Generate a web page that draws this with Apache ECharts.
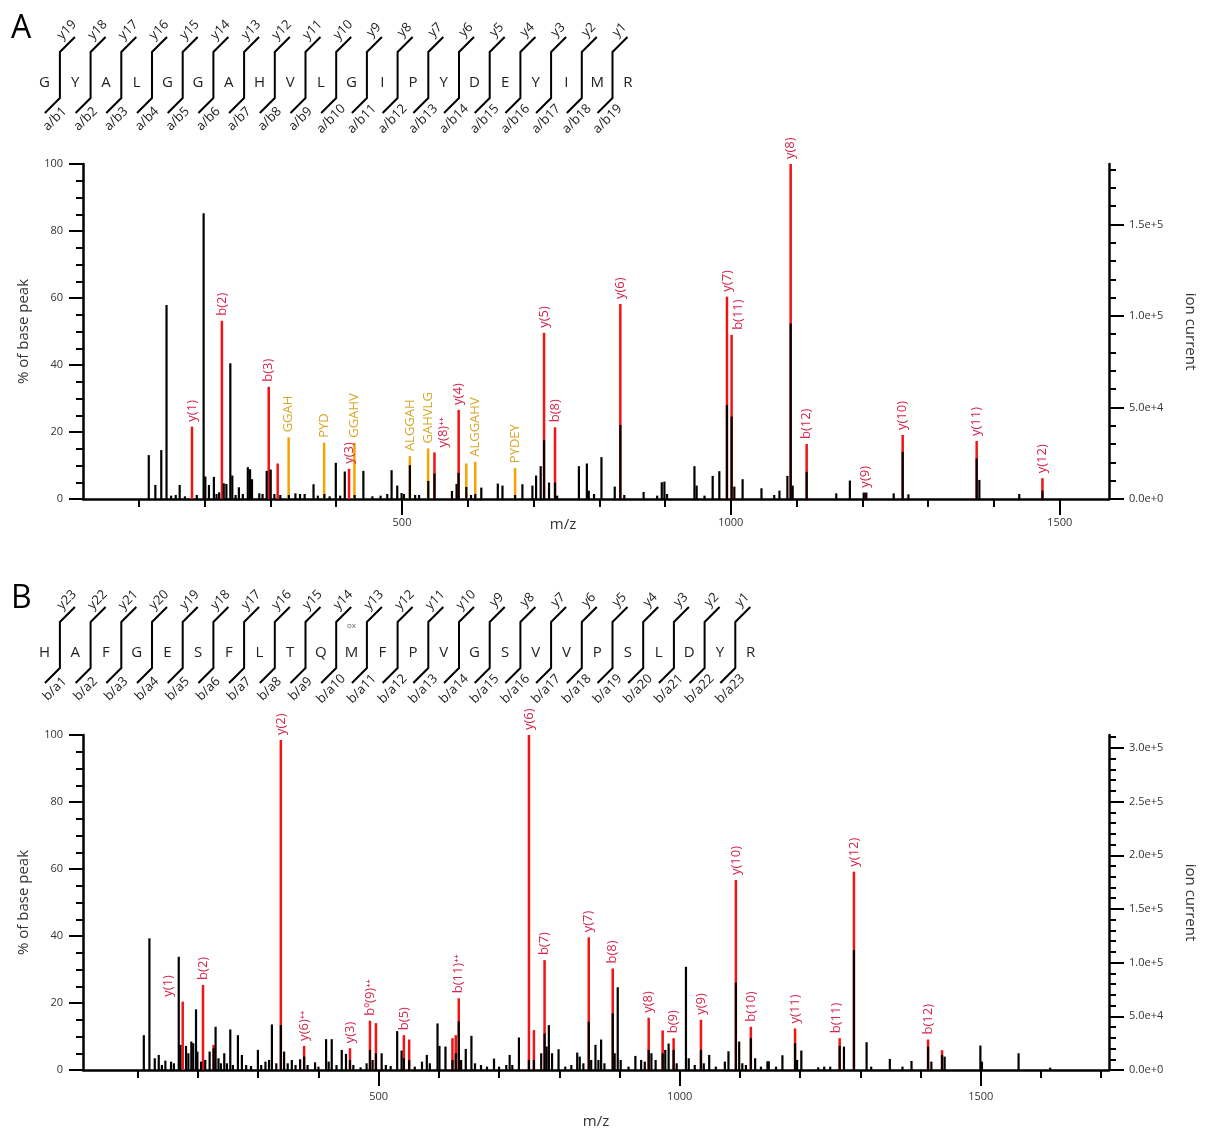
<!DOCTYPE html>
<html>
<head>
<meta charset="utf-8">
<script src="https://cdn.jsdelivr.net/npm/echarts@6/dist/echarts.min.js"></script>
<style>
html, body { margin: 0; padding: 0; background: #fff; }
#main { width: 1206px; height: 1133px; }
</style>
</head>
<body>
<div id="main"></div>
<script>
// peptide sequences
var seqA = ['G','Y','A','L','G','G','A','H','V','L','G','I','P','Y','D','E','Y','I','M','R'];
var seqB = ['H','A','F','G','E','S','F','L','T','Q','M','F','P','V','G','S','V','V','P','S','L','D','Y','R'];
var modsB = {10: 'ox'};

// axis ticks
var mzMinorA = [100,200,300,400,500,600,700,800,900,1000,1100,1200,1300,1400,1500];
var mzMinorB = [100,200,300,400,500,600,700,800,900,1000,1100,1200,1300,1400,1500,1600,1700];
var mzMajor = [500,1000,1500];
var ionMajorA = [0,50000,100000,150000];
var ionMinorA = [10000,20000,30000,40000,60000,70000,80000,90000,110000,120000,130000,140000,160000,170000,180000];
var ionMajorB = [0,50000,100000,150000,200000,250000,300000];
var ionMinorB = [10000,20000,30000,40000,60000,70000,80000,90000,110000,120000,130000,140000,160000,170000,180000,190000,
  210000,220000,230000,240000,260000,270000,280000,290000,310000];

// panel A peaks [m/z, % of base peak]
var blackA = [[115,13.1],[125,4.2],[134,14.6],[142,57.9],[149,1.0],[156,1.2],[162,4.2],[170,0.8],[188,1.2],[198.4,85.3],
  [201,6.7],[206.5,4.2],[214,6.6],[218,1.5],[222,2],[229,4.7],[233,4.5],[239,40.5],[242,7],[247,1.2],[252,3.5],[258,1.5],
  [265.6,9.5],[269,8.9],[272,5.9],[283,1.7],[288,1.5],[294.3,8.4],[300.4,8.8],[306,1.5],[315,1.2],[328,1.2],[338,1.7],
  [345,1.5],[352,1.5],[365.5,4.4],[372,1],[382,1.5],[390,0.8],[399.4,10.8],[406,1.0],[413,8.2],[428,1.2],[441.3,8.4],
  [455,0.8],[467.5,1],[477.6,1.5],[484.2,8.6],[492.8,4.0],[499.4,1.8],[503,1.5],[512,10.1],[520,1.2],[526,1.2],[540,5.4],
  [549.4,7.6],[576,2.4],[583,4.5],[586,7.8],[597.8,3.6],[605,1.2],[611.4,1.5],[620.6,3.4],[645.7,4.6],[652.8,4],[672,1.2],
  [683.1,4.4],[698.3,4],[703.9,7],[710.9,9.8],[716,17.6],[723.6,4.9],[732.7,4.9],[736,1],[769,9.8],[781.1,10.6],[784,2.5],
  [792,1.5],[803.3,12.5],[823.5,3.7],[832,22.1],[838,1.2],[867.4,2.1],[888,1.0],[895,5],[899,5.2],[903,1.5],[944.7,9.8],
  [948,4.0],[960,1.0],[972.4,6.9],[982.5,8.3],[994.1,28],[1001.2,24.6],[1005.3,3.7],[1017.9,5.9],[1046.6,3.2],[1066,1.2],
  [1073.9,2.5],[1086,6.9],[1091,52.4],[1094,4],[1115.3,8.1],[1160.3,1.7],[1181,5.5],[1202,1.9],[1206,1.9],[1247.6,1.7],
  [1261.3,14.1],[1270,1.4],[1373.8,12.1],[1377.9,5.7],[1438.5,1.5],[1473.8,2.5]];
var redA = [[180.7,21.6,'y(1)'],[226.2,53.2,'b(2)'],[297.4,33.5,'b(3)'],[311,10.6,''],[419.5,9.0,'y(3)'],
  [549.4,13.9,'y(8)⁺⁺'],[586.2,26.6,'y(4)'],[716,49.6,'y(5)'],[732.7,21.4,'b(8)'],[832,58.2,'y(6)'],[994.1,60.4,'y(7)'],
  [1001.2,49,'b(11)'],[1091,100,'y(8)'],[1115.3,16.4,'b(12)'],[1204,1.9,'y(9)'],[1261.3,19.1,'y(10)'],
  [1373.8,17.3,'y(11)'],[1473.8,6.2,'y(12)']];
var orangeA = [[327.7,18.4,'GGAH'],[381.7,16.8,'PYD'],[427.7,16.8,'GGAHV'],[512,12.8,'ALGGAH'],[539.7,15.1,'GAHVLG'],
  [597.8,10.6,''],[611.4,11.1,'ALGGAHV'],[672,9.2,'PYDEY']];

// panel B peaks [m/z, % of base peak]
var blackB = [[110,10.4],[119.3,39.3],[128.2,3.5],[134.8,4.5],[140,1.5],[145.8,2.8],[155.2,2.5],[160,2.0],[168,33.8],
  [170.7,7.5],[180.1,7.2],[184,5],[188.9,8.5],[192,8],[196.7,18.1],[199,5.5],[205,2.5],[212,3],[219.3,5.5],[225.9,6.5],
  [229.2,12.9],[234,3.5],[238,2],[243.6,5],[248,2],[253.6,12.1],[258,1.5],[266.3,10.4],[272.9,4.5],[280,1.5],[288,1.2],
  [299.5,6],[305,1.5],[312,2.5],[318,3],[322.7,13.6],[330,2],[337.6,13.4],[343,5.5],[349,2],[355.8,3],[362,1.5],
  [369.6,3.2],[376.2,4],[382,1.5],[394.4,2.3],[400,1.0],[412.7,9.2],[417,2.5],[422.1,9.2],[430,1.5],[438.7,6],[445.8,4.8],
  [452.4,3],[458,1.5],[470,0.8],[480,2],[485.6,6],[490,3],[495.5,5],[505,5],[512,1.5],[520,1.2],[530.8,11.6],[538.1,5.8],
  [541.9,3.5],[550.7,3],[560,1.0],[572,2.5],[580,4.5],[585,2],[597.8,13.9],[601,7.2],[611,7],[622.6,3],[628.1,5],
  [633.1,14.5],[637,3],[644.7,6.3],[654.1,10.2],[660,2],[670,1.5],[680,1.0],[691.6,3.4],[700,1.0],[712,1.5],[717.6,4.5],
  [722,1.5],[733,9.7],[749.6,3],[757.9,3],[770,5],[775.6,10.9],[779,7],[782.7,13.4],[788,5],[798.8,6.2],[810,1.0],
  [820,1.5],[829.8,5.2],[834,4],[840,2],[849,14.4],[853,3],[860.1,7.5],[865,3],[869.5,9.1],[875,2],[888.8,16.9],[892,5],
  [897.1,24.7],[902,3],[915,1],[926.4,4.2],[936,3],[942,2.5],[948.5,6],[953,5],[960,3],[971.7,5],[976,6],[981.6,7.9],
  [989.9,6],[995,2],[1010.4,30.8],[1015,3.5],[1025,1.5],[1035.3,6],[1040,2],[1049,4.5],[1060,1],[1075,2.5],[1081,5.6],
  [1093.3,26.1],[1098.8,8.5],[1104,2],[1110,1.5],[1118.2,9.5],[1125.3,3.5],[1135,1],[1145.7,2.6],[1148,2.6],[1160,1],
  [1170.6,4.4],[1191.6,8],[1195,3],[1202,5.8],[1230,0.8],[1240,1],[1250,1],[1265.7,7.2],[1272.8,7],[1289.4,35.8],
  [1310.4,8.3],[1318,1],[1349,3.3],[1370,1],[1385,2.7],[1412.5,7],[1418,2.5],[1435.7,4.5],[1440,4],[1499.4,7.3],
  [1502,2.5],[1562.8,5],[1615.3,0.7]];
var redB = [[174.6,20.4,'y(1)'],[208.3,25.4,'b(2)'],[225.9,7.5,''],[337.6,98.5,'y(2)'],[376.2,7.2,'y(6)⁺⁺'],
  [452.4,6.5,'y(3)'],[485.6,14.7,'bº(9)⁺⁺'],[495.5,14,''],[541.9,10.4,'b(5)'],[550.7,9.1,''],[622.6,9.5,''],
  [628.1,10.4,''],[633.1,21.4,'b(11)⁺⁺'],[749.6,100,'y(6)'],[757.9,11.9,''],[775.6,32.8,'b(7)'],[849,39.6,'y(7)'],
  [888.8,30.3,'b(8)'],[948.5,15.6,'y(8)'],[971.7,11.8,''],[989.9,9.5,'b(9)'],[1035.3,15,'y(9)'],[1093.3,56.7,'y(10)'],
  [1118.2,12.9,'b(10)'],[1191.6,12.4,'y(11)'],[1265.7,9.5,'b(11)'],[1289.4,59.2,'y(12)'],[1412.5,9.1,'b(12)'],
  [1435.7,5.9,'']];

// small sideways nudges of crowded labels (px)
var shiftA = {'y(8)⁺⁺': 9, 'b(11)': 7};
var shiftB = {'y(1)': -14, 'b(11)': -3};

var FONT = '"Open Sans", "Liberation Sans", sans-serif';
var RED = '#f01414', RED_TEXT = '#d4244c', ORANGE = '#f5a300', ORANGE_TEXT = '#d8a62a';

function stickRender(color, width) {
  return function (params, api) {
    var base = api.coord([api.value(0), 0]);
    var top = api.coord([api.value(0), api.value(1)]);
    return {
      type: 'line',
      shape: { x1: base[0], y1: base[1], x2: top[0], y2: top[1] },
      style: { stroke: color, lineWidth: width }
    };
  };
}

function labelRender(list, color, shifts) {
  return function (params, api) {
    var item = list[params.dataIndex];
    if (!item[2]) return null;
    var top = api.coord([item[0], item[1]]);
    return {
      type: 'text',
      x: top[0] + (shifts[item[2]] || 0),
      y: top[1] - 5,
      rotation: Math.PI / 2,
      style: { text: item[2], fill: color, font: '13px ' + FONT, align: 'left', verticalAlign: 'middle' }
    };
  };
}

function peptideRender(seq, prefix, mods) {
  var n = seq.length;
  return function (params, api) {
    var i = api.value(0);
    var kids = [];
    var p = api.coord([i, 0.33]);
    kids.push({ type: 'text', x: p[0], y: p[1],
      style: { text: seq[i], fill: '#222', font: '15px ' + FONT, align: 'center', verticalAlign: 'middle' } });
    if (mods[i]) {
      var q = api.coord([i, 1]);
      kids.push({ type: 'text', x: q[0], y: q[1] + 4,
        style: { text: mods[i], fill: '#666', font: '8px ' + FONT, align: 'center', verticalAlign: 'middle' } });
    }
    if (i < n - 1) {
      var t = api.coord([i + 0.5, 1]);
      var b = api.coord([i + 0.5, 0]);
      kids.push({ type: 'polyline',
        shape: { points: [[t[0] + 15, t[1] - 15], [t[0], t[1]], [b[0], b[1]], [b[0] - 15, b[1] + 15]] },
        style: { stroke: '#000', lineWidth: 2, fill: null } });
      kids.push({ type: 'text', x: t[0] + 7, y: t[1] - 22, rotation: Math.PI / 4,
        style: { text: 'y' + (n - 1 - i), fill: '#222', font: '13px ' + FONT, align: 'center', verticalAlign: 'middle' } });
      kids.push({ type: 'text', x: b[0] - 5, y: b[1] + 21, rotation: Math.PI / 4,
        style: { text: prefix + (i + 1), fill: '#222', font: '13px ' + FONT, align: 'center', verticalAlign: 'middle' } });
    }
    return { type: 'group', children: kids };
  };
}

function xy(list) { return list.map(function (d) { return [d[0], d[1]]; }); }
function idx(seq) { return seq.map(function (s, i) { return [i]; }); }

var axisLineStyle = { show: true, onZero: false, lineStyle: { color: '#000', width: 2.5 } };
var tickLabel = { color: '#333', fontSize: 11, fontFamily: FONT };
var nameStyle = { color: '#333', fontSize: 15, fontFamily: FONT };

function mzAxes(grid, min, max, minor, labelMargin, nameGap, namePad) {
  return [{
    gridIndex: grid, type: 'value', min: min, max: max, position: 'bottom',
    axisLine: axisLineStyle,
    axisTick: { show: true, customValues: minor, length: 8, lineStyle: { color: '#000', width: 2 } },
    axisLabel: { show: false },
    splitLine: { show: false },
    name: 'm/z', nameLocation: 'middle', nameGap: nameGap,
    nameTextStyle: Object.assign({ padding: namePad }, nameStyle)
  }, {
    gridIndex: grid, type: 'value', min: min, max: max, position: 'bottom',
    axisLine: { show: false, onZero: false },
    axisTick: { show: true, customValues: mzMajor, length: 16, lineStyle: { color: '#000', width: 2 } },
    axisLabel: Object.assign({ customValues: mzMajor, margin: labelMargin,
      formatter: function (v) { return String(v); } }, tickLabel),
    splitLine: { show: false }
  }];
}

function pctAxis(grid) {
  return {
    gridIndex: grid, type: 'value', min: 0, max: 100, interval: 20, position: 'left',
    axisLine: axisLineStyle,
    axisTick: { show: true, length: 14, lineStyle: { color: '#000', width: 2 } },
    minorTick: { show: true, splitNumber: 4, length: 7, lineStyle: { color: '#000', width: 2 } },
    axisLabel: Object.assign({ margin: 20 }, tickLabel),
    splitLine: { show: false },
    name: '% of base peak', nameLocation: 'middle', nameGap: 52, nameTextStyle: nameStyle
  };
}

function ionAxes(grid, max, major, minor) {
  return [{
    gridIndex: grid, type: 'value', min: 0, max: max, position: 'right',
    axisLine: axisLineStyle,
    axisTick: { show: true, customValues: major, length: 15, lineStyle: { color: '#000', width: 2 } },
    axisLabel: Object.assign({ customValues: major, margin: 20,
      formatter: function (v) { return v.toExponential(1); } }, tickLabel),
    splitLine: { show: false },
    name: 'ion current', nameLocation: 'middle', nameGap: 74, nameRotate: -90, nameTextStyle: nameStyle
  }, {
    gridIndex: grid, type: 'value', min: 0, max: max, position: 'right',
    axisLine: { show: false, onZero: false },
    axisTick: { show: true, customValues: minor, length: 7, lineStyle: { color: '#000', width: 2 } },
    axisLabel: { show: false },
    splitLine: { show: false }
  }];
}

function hiddenAxis(grid, min, max) {
  return { gridIndex: grid, type: 'value', min: min, max: max, show: false, splitLine: { show: false } };
}

var xAxes = [].concat(
  mzAxes(0, 15, 1575, mzMinorA, 18, 18, [0, 66, 0, 0]),
  mzAxes(1, 9, 1713, mzMinorB, 21, 44, 0),
  [hiddenAxis(2, -0.5, seqA.length - 0.5), hiddenAxis(3, -0.5, seqB.length - 0.5)]
);
var yAxes = [].concat(
  [pctAxis(0)], ionAxes(0, 183000, ionMajorA, ionMinorA),
  [pctAxis(1)], ionAxes(1, 312000, ionMajorB, ionMinorB),
  [hiddenAxis(2, 0, 1), hiddenAxis(3, 0, 1)]
);

function spectrumSeries(xi, yi, black, red, orange, shifts) {
  var s = [];
  if (orange) s.push({ type: 'custom', xAxisIndex: xi, yAxisIndex: yi, data: xy(orange), renderItem: stickRender(ORANGE, 2.5) });
  s.push({ type: 'custom', xAxisIndex: xi, yAxisIndex: yi, data: xy(red), renderItem: stickRender(RED, 2.5) });
  s.push({ type: 'custom', xAxisIndex: xi, yAxisIndex: yi, data: xy(black), renderItem: stickRender('#000', 2.2) });
  if (orange) s.push({ type: 'custom', xAxisIndex: xi, yAxisIndex: yi, data: xy(orange), renderItem: labelRender(orange, ORANGE_TEXT, shifts) });
  s.push({ type: 'custom', xAxisIndex: xi, yAxisIndex: yi, data: xy(red), renderItem: labelRender(red, RED_TEXT, shifts) });
  return s;
}

var chart = echarts.init(document.getElementById('main'));
var option = {
  animation: false,
  backgroundColor: '#fff',
  title: [
    { text: 'A', left: 6, top: 8, textStyle: { fontSize: 32, fontWeight: 'normal', fontFamily: FONT, color: '#000' } },
    { text: 'B', left: 6, top: 578, textStyle: { fontSize: 32, fontWeight: 'normal', fontFamily: FONT, color: '#000' } }
  ],
  grid: [
    { left: 83, top: 164, width: 1030, height: 335 },
    { left: 83, top: 735, width: 1028, height: 335 },
    { left: 29.2, top: 52, width: 614, height: 46 },
    { left: 29.2, top: 622, width: 736.8, height: 46 }
  ],
  xAxis: xAxes,
  yAxis: yAxes,
  series: [].concat(
    spectrumSeries(0, 0, blackA, redA, orangeA, shiftA),
    spectrumSeries(2, 3, blackB, redB, null, shiftB),
    [
      { type: 'custom', xAxisIndex: 4, yAxisIndex: 6, data: idx(seqA), renderItem: peptideRender(seqA, 'a/b', {}) },
      { type: 'custom', xAxisIndex: 5, yAxisIndex: 7, data: idx(seqB), renderItem: peptideRender(seqB, 'b/a', modsB) }
    ]
  )
};
chart.setOption(option);
</script>
</body>
</html>
